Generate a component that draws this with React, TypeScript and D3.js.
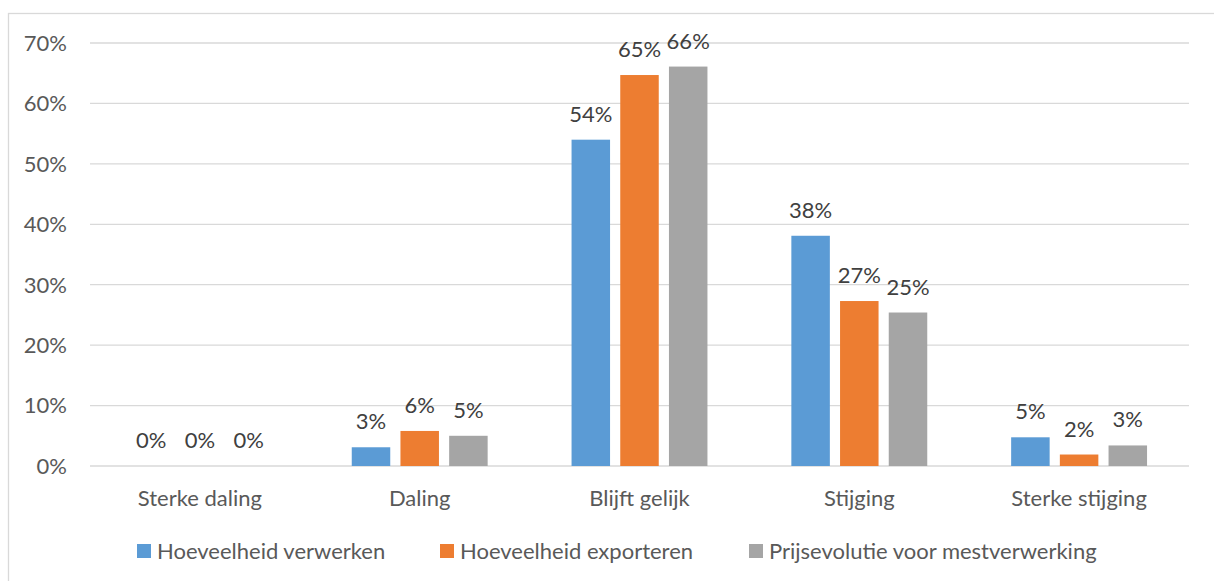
import React from "react";
import * as d3 from "d3";

// Survey answers per expected evolution, share of respondents (%)
const categories = ["Sterke daling", "Daling", "Blijft gelijk", "Stijging", "Sterke stijging"];
const seriesNames = ["Hoeveelheid verwerken", "Hoeveelheid exporteren", "Prijsevolutie voor mestverwerking"];
const verwerken = [0, 3.1, 54.0, 38.1, 4.75];
const exporteren = [0, 5.8, 64.7, 27.3, 1.9];
const prijsevolutie = [0, 5.0, 66.1, 25.4, 3.4];
const yTicks = [0, 10, 20, 30, 40, 50, 60, 70];
const colors = ["#5B9BD5", "#ED7D31", "#A5A5A5"];

const W = 1214;
const H = 581;
const plot = { left: 90, right: 1189, top: 43, bottom: 466 };
const FONT = "Lato, 'Open Sans', sans-serif";
const FS = 22;

export default function App() {
  const series = [verwerken, exporteren, prijsevolutie];

  const x = d3.scaleBand<string>().domain(categories).range([plot.left, plot.right]);
  const y = d3.scaleLinear().domain([0, 70]).range([plot.bottom, plot.top]);
  const barW = 38.5;
  const step = 48.7;

  const legendX = [137, 440, 749];

  return (
    <div style={{ position: "fixed", left: 0, top: 0, background: "#fff" }}>
      <svg width={W} height={H} style={{ display: "block", fontFamily: FONT }}>
        <rect x={0} y={0} width={W} height={H} fill="#fff" />
        <rect x={8.5} y={13.5} width={W + 20} height={H + 20} fill="none" stroke="#d9d9d9" strokeWidth={1.3} />

        {yTicks.map((t) => (
          <g key={t}>
            <line x1={plot.left} x2={plot.right} y1={y(t)} y2={y(t)} stroke="#d9d9d9" strokeWidth={1.3} />
            <text x={67} y={y(t)} dy="0.36em" textAnchor="end" fontSize={FS} fill="#595959">
              {d3.format("d")(t)}%
            </text>
          </g>
        ))}

        {categories.map((c, ci) => {
          const cx = (x(c) as number) + x.bandwidth() / 2;
          return (
            <g key={c}>
              {series.map((vals, si) => {
                const bx = cx + (si - 1) * step - barW / 2;
                const v = vals[ci];
                return (
                  <g key={si}>
                    <rect x={bx} y={y(v)} width={barW} height={y(0) - y(v)} fill={colors[si]} />
                    <text
                      x={bx + barW / 2}
                      y={y(v) - 18}
                      textAnchor="middle"
                      fontSize={FS}
                      fill="#404040"
                    >
                      {Math.round(v)}%
                    </text>
                  </g>
                );
              })}
              <text x={cx} y={506} textAnchor="middle" fontSize={FS} fill="#595959">
                {c}
              </text>
            </g>
          );
        })}

        {seriesNames.map((n, i) => (
          <g key={n}>
            <rect x={legendX[i]} y={544} width={14} height={14} fill={colors[i]} />
            <text x={legendX[i] + 20} y={559} fontSize={FS} fill="#595959">
              {n}
            </text>
          </g>
        ))}
      </svg>
    </div>
  );
}
